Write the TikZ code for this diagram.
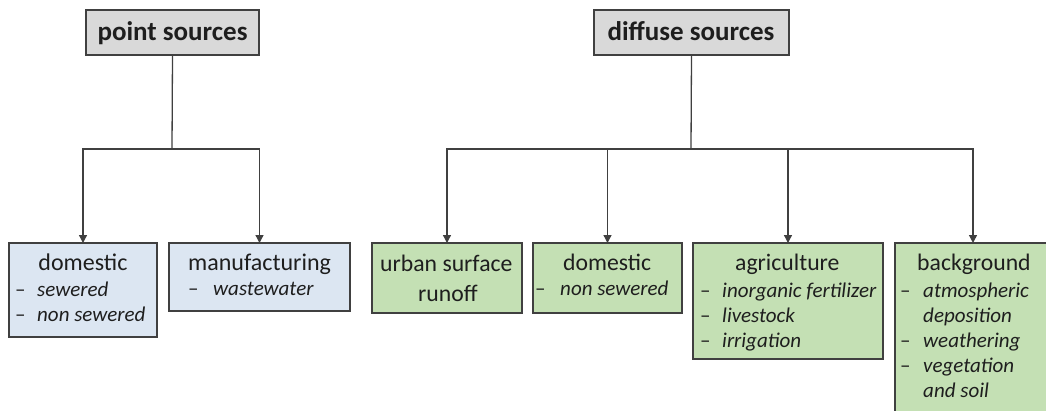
\documentclass[tikz,border=0pt]{standalone}
\usepackage{fontspec}
\setmainfont{Carlito}
\usetikzlibrary{arrows.meta}

\definecolor{edgegray}{HTML}{404040}
\definecolor{inkdark}{HTML}{1E1E1E}
\definecolor{titlefill}{HTML}{D9D9D9}
\definecolor{pointfill}{HTML}{DCE6F2}
\definecolor{diffusefill}{HTML}{C4E0B4}

\tikzset{
  box/.style={draw=edgegray, line width=1.4pt, inner sep=0pt, outer sep=0pt,
    anchor=north west},
  titlebox/.style={box, fill=titlefill},
  pointbox/.style={box, fill=pointfill},
  diffusebox/.style={box, fill=diffusefill},
  titletext/.style={inner sep=0pt, anchor=base, text=inkdark,
    font=\fontsize{27}{30}\selectfont\bfseries},
  headtext/.style={inner sep=0pt, anchor=base west, text=inkdark,
    font=\fontsize{23.7}{28}\selectfont},
  itemtext/.style={inner sep=0pt, anchor=base west, text=inkdark,
    font=\fontsize{21}{25}\selectfont\itshape},
  link/.style={draw=edgegray, line width=1.3pt},
  feed/.style={link, -{Triangle[width=8pt,length=8pt]}},
}
\newcommand{\bul}[2]{\makebox[#1][l]{\upshape –}#2}

\begin{document}
\begin{tikzpicture}[x=1pt, y=-1pt]
\useasboundingbox (0,0) rectangle (1046,410);

% ---- top-level categories
\node[titlebox, minimum width=173pt, minimum height=45pt] (ps) at (86,10) {};
\node[titletext] (ps-t) at (172.5,40) {point sources};
\node[titlebox, minimum width=195pt, minimum height=45pt] (ds) at (594,10) {};
\node[titletext] (ds-t) at (691,40) {diffuse sources};

% ---- point source boxes
\node[pointbox, minimum width=148pt, minimum height=94pt] (pdom) at (9,243) {};
\node[headtext, anchor=base, font=\fontsize{24}{28}\selectfont] (pdom-h) at (83,270) {domestic};
\node[itemtext] (pdom-a) at (15,296) {\bul{22pt}{sewered}};
\node[itemtext] (pdom-b) at (15,321) {\bul{22pt}{non sewered}};

\node[pointbox, minimum width=181pt, minimum height=68pt] (pman) at (169,243) {};
\node[headtext, font=\fontsize{24}{28}\selectfont] (pman-h) at (188,270) {manufacturing};
\node[itemtext] (pman-a) at (188,295) {\bul{25pt}{wastewater}};

% ---- diffuse source boxes
\node[diffusebox, minimum width=150pt, minimum height=70pt] (durb) at (372,243) {};
\node[headtext] (durb-h) at (380,271) {urban surface};
\node[headtext] (durb-h2) at (418,301) {runoff};

\node[diffusebox, minimum width=149pt, minimum height=70pt] (ddom) at (533,243) {};
\node[headtext] (ddom-h) at (563,270) {domestic};
\node[itemtext] (ddom-a) at (535,295) {\bul{25pt}{non sewered}};

\node[diffusebox, minimum width=190pt, minimum height=116pt] (dagr) at (693,243) {};
\node[headtext] (dagr-h) at (735,270) {agriculture};
\node[itemtext] (dagr-a) at (700,297) {\bul{22pt}{inorganic fertilizer}};
\node[itemtext] (dagr-b) at (700,322) {\bul{22pt}{livestock}};
\node[itemtext] (dagr-c) at (700,347) {\bul{22pt}{irrigation}};

\node[diffusebox, minimum width=156pt, minimum height=175pt] (dbg) at (895,243) {};
\node[headtext] (dbg-h) at (917,270) {background};
\node[itemtext] (dbg-a) at (900,297) {\bul{23pt}{atmospheric}};
\node[itemtext] (dbg-a2) at (923,322) {deposition};
\node[itemtext] (dbg-b) at (900,347) {\bul{23pt}{weathering}};
\node[itemtext] (dbg-c) at (900,372) {\bul{23pt}{vegetation}};
\node[itemtext] (dbg-c2) at (923,397) {and soil};

% ---- connectors
\coordinate (pj) at (172,149);
\coordinate (dj) at (691,149);
\path[link] (ps.south) -- (pj);
\path[feed] (pj) -| (pdom.north);
\path[feed] (pj) -| (pman.north);
\path[link] (ds.south) -- (dj);
\path[feed] (dj) -| (durb.north);
\path[feed] (dj) -| (ddom.north);
\path[feed] (dj) -| (dagr.north);
\path[feed] (dj) -| (dbg.north);
\end{tikzpicture}
\end{document}
